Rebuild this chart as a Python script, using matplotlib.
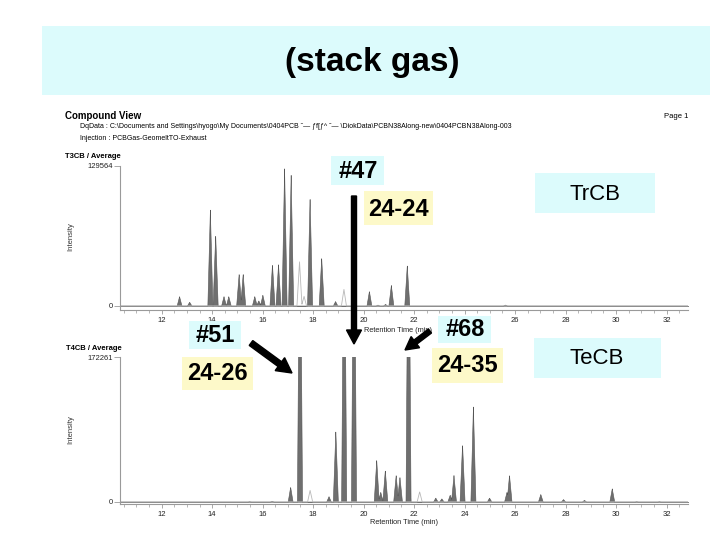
import numpy as np
import matplotlib
matplotlib.use("Agg")
import matplotlib.pyplot as plt
from matplotlib.patches import Rectangle, FancyArrow

plt.rcParams['font.family'] = ['Liberation Sans', 'DejaVu Sans']

# ---- chromatogram peaks (retention time in min, height as fraction of full scale) ----
t3_time = [12.69, 13.09, 13.91, 14.12, 14.45, 14.64, 15.05, 15.21, 15.67, 15.83, 15.99,
           16.37, 16.61, 16.85, 17.11, 17.86, 18.32, 18.87, 20.21, 20.55, 20.85,
           21.08, 21.71, 25.6]
t3_height = [0.07, 0.03, 0.69, 0.51, 0.07, 0.07, 0.23, 0.23, 0.07, 0.04, 0.08,
             0.30, 0.30, 0.99, 0.94, 0.78, 0.345, 0.035, 0.107, 0.01, 0.015,
             0.15, 0.29, 0.01]
t3_light_time = [17.46, 17.64, 19.22]
t3_light_height = [0.32, 0.07, 0.12]

# off-scale peaks (clipped at the top of the panel) are given 2.5
t4_time = [15.47, 16.36, 17.09, 17.46, 18.61, 18.88, 19.21, 19.60, 20.50, 20.66,
           20.84, 21.27, 21.42, 21.76, 22.84, 23.08, 23.41, 23.56, 23.90, 24.33,
           24.97, 25.66, 25.76, 27.00, 27.90, 28.73, 29.83, 30.8, 31.7]
t4_height = [0.005, 0.008, 0.105, 2.5, 0.04, 0.49, 2.5, 2.5, 0.29, 0.07,
             0.22, 0.186, 0.175, 2.5, 0.03, 0.025, 0.05, 0.186, 0.40, 0.66,
             0.03, 0.07, 0.186, 0.055, 0.02, 0.015, 0.094, 0.005, 0.005]
t4_light_time = [17.88, 22.22]
t4_light_height = [0.08, 0.07]

xticks = [12, 14, 16, 18, 20, 22, 24, 26, 28, 30, 32]
t3_full = "129564"
t4_full = "172261"

W, H = 720, 540
fig = plt.figure(figsize=(7.2, 5.4), dpi=100)
fig.patch.set_facecolor("white")

PEAK = "#6f6f6f"
AXC = "#9a9a9a"
grid = np.linspace(10.35, 32.85, 5000)


def trace(times, heights, hw=0.1):
    y = np.zeros_like(grid)
    for t, h in zip(times, heights):
        y = np.maximum(y, h * np.clip(1 - np.abs(grid - t) / hw, 0, None))
    return y


def chrom_axes(left, right, top, zero, bottom):
    # pixel box -> figure fraction
    ax = fig.add_axes([left / W, 1 - bottom / H, (right - left) / W, (bottom - top) / H])
    ax.set_xlim(10.35, 32.85)
    ax.set_ylim(-(bottom - zero) / (zero - top), 1.0)
    for s in ["top", "right"]:
        ax.spines[s].set_visible(False)
    for s in ["left", "bottom"]:
        ax.spines[s].set_color(AXC)
        ax.spines[s].set_linewidth(0.8)
    ax.set_xticks(xticks)
    ax.set_xticks(np.arange(10.5, 33, 0.5), minor=True)
    ax.tick_params(axis="x", colors=AXC, labelcolor="#222222", labelsize=5.5,
                   length=3, width=0.6, pad=2)
    ax.tick_params(axis="x", which="minor", colors=AXC, length=2, width=0.5)
    ax.set_facecolor("none")
    return ax


def draw(ax, times, heights, ltimes, lheights, full):
    ax.plot(grid, np.zeros_like(grid), color=AXC, lw=0.6)
    ax.fill_between(grid, trace(times, heights), color=PEAK, lw=0.4, edgecolor="#555555")
    ax.plot(grid, trace(ltimes, lheights), color="#b8b8b8", lw=0.6)
    ax.set_yticks([0, 1])
    ax.set_yticklabels(["0", full])
    ax.tick_params(axis="y", colors=AXC, labelcolor="#222222", labelsize=5.5,
                   length=4, width=0.6, pad=1)
    ax.set_xlabel("Retention Time (min)", fontsize=5.3, color="#222222", labelpad=1)


ax1 = chrom_axes(120, 688, 166, 306, 310)
draw(ax1, t3_time, t3_height, t3_light_time, t3_light_height, t3_full)
ax1.xaxis.set_label_coords((398 - 120) / 568, -(327 - 310) / 144)
ax2 = chrom_axes(120, 688, 357, 502, 504)
draw(ax2, t4_time, t4_height, t4_light_time, t4_light_height, t4_full)

# ---- overlay in pixel coordinates ----
ov = fig.add_axes([0, 0, 1, 1], zorder=10)
ov.set_xlim(0, W)
ov.set_ylim(H, 0)
ov.axis("off")
ov.patch.set_alpha(0)

CYAN = "#dcfbfc"
YELLOW = "#fdf9c9"


def box(x0, y0, x1, y1, color):
    ov.add_patch(Rectangle((x0, y0), x1 - x0, y1 - y0, facecolor=color, edgecolor="none"))


# title
box(42, 26, 710, 95, CYAN)
ov.text(372, 62, "(stack gas)", fontsize=24, fontweight="bold", ha="center", va="center")

# report header
ov.text(65, 116, "Compound View", fontsize=7, fontweight="bold", va="center")
ov.text(688, 117, "Page 1", fontsize=5.5, ha="right", va="center")
ov.text(80, 127, "DqData : C:\\Documents and Settings\\hyogo\\My Documents\\0404PCB \u02dc\u2014 \u0192f[\u0192^ \u02dc\u2014 "
        "\\DiokData\\PCBN38Along-new\\0404PCBN38Along-003", fontsize=5, va="center")
ov.text(80, 138, "Injection : PCBGas-GeomeltTO-Exhaust", fontsize=5, va="center")
ov.text(65, 157, "T3CB / Average", fontsize=5.5, fontweight="bold", va="center")
ov.text(66, 349, "T4CB / Average", fontsize=5.5, fontweight="bold", va="center")
ov.text(71, 237, "Intensity", fontsize=5.5, rotation=90, ha="center", va="center", color="#333333")
ov.text(71, 430, "Intensity", fontsize=5.5, rotation=90, ha="center", va="center", color="#333333")

# labels
box(331, 156, 384, 185, CYAN)
ov.text(358, 172, "#47", fontsize=17, fontweight="bold", ha="center", va="center")
box(364, 191, 433, 225, YELLOW)
ov.text(398, 209, "24-24", fontsize=17, fontweight="bold", ha="center", va="center")
box(535, 173, 655, 213, CYAN)
ov.text(595, 194, "TrCB", fontsize=16, ha="center", va="center")

box(189, 321, 241, 349, CYAN)
ov.text(215, 336, "#51", fontsize=17, fontweight="bold", ha="center", va="center")
box(182, 357, 253, 390, YELLOW)
ov.text(217, 374, "24-26", fontsize=17, fontweight="bold", ha="center", va="center")

box(438, 316, 491, 343, CYAN)
ov.text(465, 330, "#68", fontsize=17, fontweight="bold", ha="center", va="center")
box(432, 348, 503, 383, YELLOW)
ov.text(467, 366, "24-35", fontsize=17, fontweight="bold", ha="center", va="center")
box(534, 338, 661, 378, CYAN)
ov.text(597, 359, "TeCB", fontsize=16, ha="center", va="center")

# arrows
ov.add_patch(FancyArrow(354, 196, 0, 148, width=5, head_width=15, head_length=14,
                        length_includes_head=True, color="black"))
ov.add_patch(FancyArrow(251, 343, 41, 30, width=6, head_width=16, head_length=15,
                        length_includes_head=True, color="black"))
ov.add_patch(FancyArrow(430, 331, -25, 19, width=5, head_width=14, head_length=13,
                        length_includes_head=True, color="black"))

fig.savefig("out.png", dpi=100)
